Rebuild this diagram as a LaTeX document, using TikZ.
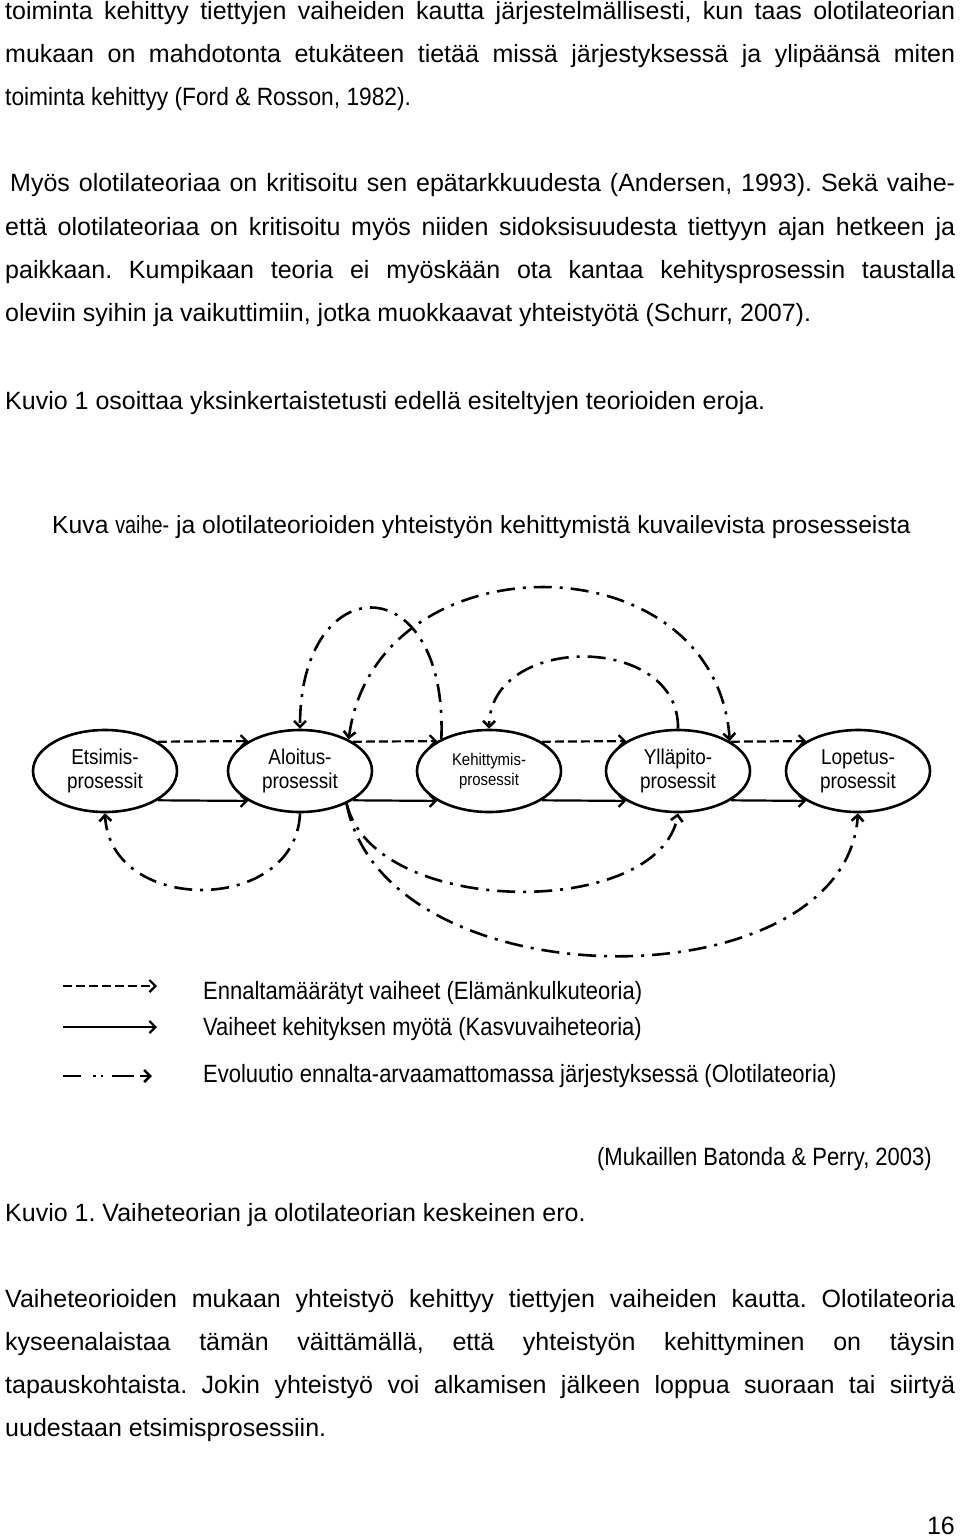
\documentclass[tikz,border=0pt]{standalone}
\usepackage{fontspec}
\setmainfont{Liberation Sans}
\newfontfamily\nf[FakeStretch=0.88]{Liberation Sans}
\usetikzlibrary{shapes.geometric,arrows.meta}
\frenchspacing
\begin{document}
\begin{tikzpicture}[x=1pt,y=-1pt,
  body/.style={anchor=base west, inner sep=0, font=\fontsize{25}{30}\selectfont},
  legtext/.style={anchor=base west, inner sep=0, font=\nf\fontsize{25}{30}\selectfont},
  proc/.style={ellipse, draw, line width=2.6pt, minimum width=144pt, minimum height=82pt, inner sep=0, align=center, font=\nf\fontsize{21.5}{24}\selectfont},
  barb/.style={-{Straight Barb[length=6pt,width=12pt]}},
  barbboth/.style={{Straight Barb[length=6pt,width=12pt]}-{Straight Barb[length=6pt,width=12pt]}},
  prearr/.style={barb, line width=2.2pt, dash pattern=on 9pt off 4pt},
  solidarr/.style={barb, line width=2.2pt},
  evoline/.style={line width=2.6pt, dash pattern=on 18pt off 8pt on 3pt off 8pt}
]
\useasboundingbox (0,0) rectangle (960,1537);
\fill[white] (0,0) rectangle (960,1537);

% ---- top paragraph ----
\node[body] (p1) at (5,19) {\makebox[950pt][s]{toiminta kehittyy tiettyjen vaiheiden kautta järjestelmällisesti, kun taas olotilateorian}};
\node[body] (p2) at (5,62) {\makebox[950pt][s]{mukaan on mahdotonta etukäteen tietää missä järjestyksessä ja ylipäänsä miten}};
\node[body] (p3) at (5,105) {\scalebox{0.91}[1]{toiminta kehittyy (Ford \& Rosson, 1982).}};
\node[body] (p4) at (10,191) {\makebox[945pt][s]{Myös olotilateoriaa on kritisoitu sen epätarkkuudesta (Andersen, 1993). Sekä vaihe-}};
\node[body] (p5) at (5,235) {\makebox[950pt][s]{että olotilateoriaa on kritisoitu myös niiden sidoksisuudesta tiettyyn ajan hetkeen ja}};
\node[body] (p6) at (5,278) {\makebox[950pt][s]{paikkaan. Kumpikaan teoria ei myöskään ota kantaa kehitysprosessin taustalla}};
\node[body] (p7) at (5,321) {oleviin syihin ja vaikuttimiin, jotka muokkaavat yhteistyötä (Schurr, 2007).};
\node[body] (p8) at (5,409) {Kuvio 1 osoittaa yksinkertaistetusti edellä esiteltyjen teorioiden eroja.};

% ---- diagram title ----
\node[anchor=base west, inner sep=0, font=\fontsize{24.7}{30}\selectfont] (title) at (52,533)
  {Kuva \scalebox{0.8}[1]{vaihe-} ja olotilateorioiden yhteistyön kehittymistä kuvailevista prosesseista};

% ---- process ellipses ----
\node[proc] (e) at (105,771) {Etsimis-\\prosessit};
\node[proc] (a) at (300,771) {Aloitus-\\prosessit};
\node[proc, font=\nf\fontsize{17}{20}\selectfont] (k) at (489,771) {\raisebox{2pt}{Kehittymis-}\\\raisebox{2pt}{prosessit}};
\node[proc] (y) at (678,771) {Ylläpito-\\prosessit};
\node[proc] (l) at (858,771) {Lopetus-\\prosessit};

% ---- straight connectors ----
\draw[prearr] (e.29.6) -- (a.150.4);
\draw[prearr] (a.29.6) -- (k.150.4);
\draw[prearr] (k.29.6) -- (y.150.4);
\draw[prearr] (y.29.6) -- (l.150.4);
\draw[solidarr] (e.-29.6) -- (a.-150.4);
\draw[solidarr] (a.-29.6) -- (k.-150.4);
\draw[solidarr] (k.-29.6) -- (y.-150.4);
\draw[solidarr] (y.-29.6) -- (l.-150.4);

% ---- dash-dot curves (above) ----
\draw[evoline, barb] (k.146) .. controls (448,566) and (300,566) .. (a.north);
\draw[evoline, barbboth] (a.33) .. controls (375,537) and (715,537) .. (y.30);
\draw[evoline, barb] (y.north) .. controls (680,633) and (490,633) .. (k.north);

% ---- dash-dot curves (below) ----
\draw[evoline, barb] (a.south) .. controls (296,915) and (110,915) .. (e.south);
\draw[evoline, barb] (a.-35) .. controls (375,919) and (660,919) .. (y.south);
\draw[evoline, barb] (a.-35) .. controls (385,1005) and (845,1005) .. (l.south);

% ---- legend ----
\coordinate (l1s) at (63,986);  \coordinate (l1e) at (157,986);
\coordinate (l2s) at (63,1027); \coordinate (l2e) at (157,1027);
\coordinate (l3s) at (63,1076); \coordinate (l3e) at (152,1076);
\draw[prearr] (l1s) -- (l1e);
\draw[solidarr] (l2s) -- (l2e);
\draw[barb, line width=2.6pt, dash pattern=on 18pt off 12pt on 2.5pt off 5pt on 2.5pt off 9pt on 22pt off 6pt] (l3s) -- (l3e);
\node[legtext] (lt1) at (203,999) {Ennaltamäärätyt vaiheet (Elämänkulkuteoria)};
\node[legtext] (lt2) at (203,1035) {Vaiheet kehityksen myötä (Kasvuvaiheteoria)};
\node[legtext] (lt3) at (203,1082) {Evoluutio ennalta-arvaamattomassa järjestyksessä (Olotilateoria)};

\node[legtext, anchor=base east] (src) at (932,1165) {(Mukaillen Batonda \& Perry, 2003)};
\node[body] (cap) at (5,1221) {Kuvio 1. Vaiheteorian ja olotilateorian keskeinen ero.};

% ---- bottom paragraph ----
\node[body] (q1) at (5,1307) {\makebox[950pt][s]{Vaiheteorioiden mukaan yhteistyö kehittyy tiettyjen vaiheiden kautta. Olotilateoria}};
\node[body] (q2) at (5,1350) {\makebox[950pt][s]{kyseenalaistaa tämän väittämällä, että yhteistyön kehittyminen on täysin}};
\node[body] (q3) at (5,1393) {\makebox[950pt][s]{tapauskohtaista. Jokin yhteistyö voi alkamisen jälkeen loppua suoraan tai siirtyä}};
\node[body] (q4) at (5,1436) {uudestaan etsimisprosessiin.};
\node[body, anchor=base east] (pg) at (955,1534) {16};
\end{tikzpicture}
\end{document}
